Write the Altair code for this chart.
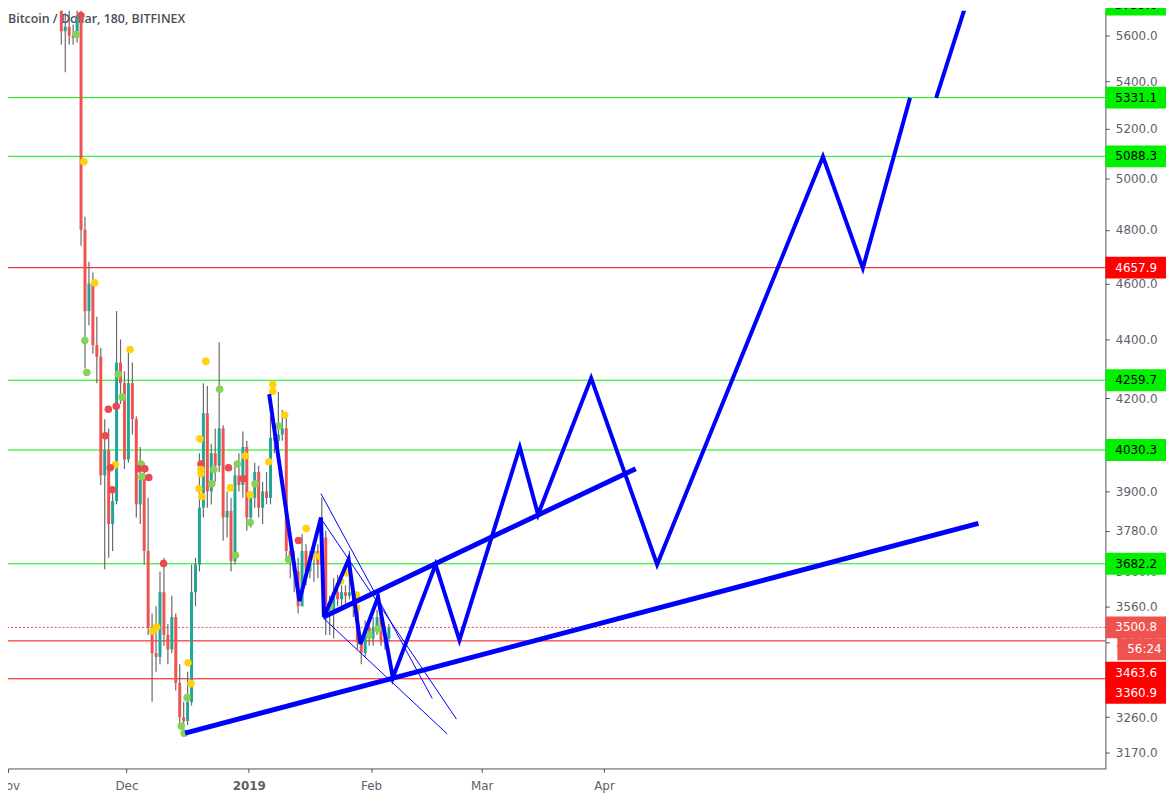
import altair as alt
import pandas as pd

W, H = 1105, 763

# ---------------- data ----------------
candle_first_day = "2018-11-14 12:00"
opens = [6300, 5620, 5640, 5600, 5590, 5690, 4800, 4500, 4600, 4380, 4340, 3950, 4030, 3800, 3870, 4320, 4250,
         4000, 4250, 4130, 3860, 3950, 3720, 3500, 3430, 3420, 3600, 3480, 3440, 3530, 3350, 3260, 3250, 3300,
         3600, 3680, 3850, 4150, 3900, 4020, 3980, 4100, 3820, 3840, 3690, 3950, 3920, 4040, 3820, 3880, 3960,
         3850, 3900, 3880, 4070, 4060, 4080, 4100, 3720, 3690, 3660, 3560, 3720, 3660, 3700, 3720, 3680, 3760,
         3560, 3550, 3600, 3580, 3600, 3590, 3600, 3560, 3460, 3430, 3500, 3470, 3500, 3530, 3460, 3470]
highs = [6380, 5700, 5720, 5650, 5740, 5720, 4850, 4680, 4640, 4480, 4370, 4130, 4100, 3900, 4500, 4400, 4290,
         4370, 4320, 4140, 4040, 3990, 3880, 3540, 3560, 3660, 3700, 3510, 3590, 3540, 3400, 3300, 3380, 3680,
         3700, 4020, 4250, 4240, 4050, 4100, 4390, 4110, 3900, 3880, 3980, 4020, 4090, 4060, 3900, 3990, 3980,
         3930, 3960, 4140, 4120, 4220, 4160, 4150, 3760, 3720, 3700, 3770, 3740, 3720, 3740, 3740, 3880, 3780,
         3590, 3640, 3650, 3620, 3620, 3720, 3610, 3565, 3470, 3520, 3510, 3530, 3550, 3540, 3490, 3510]
lows = [5560, 5440, 5560, 5560, 5570, 4740, 4300, 4450, 4350, 4250, 3920, 3666, 3700, 3720, 3860, 4180, 3970,
        3990, 4080, 3820, 3800, 3680, 3480, 3300, 3380, 3400, 3450, 3400, 3430, 3330, 3230, 3210, 3240, 3290,
        3560, 3660, 3820, 3850, 3860, 3930, 3960, 3750, 3760, 3660, 3680, 3900, 3880, 3780, 3790, 3850, 3820,
        3800, 3860, 3860, 4020, 4030, 4060, 3700, 3640, 3600, 3540, 3560, 3620, 3640, 3630, 3640, 3670, 3480,
        3480, 3470, 3560, 3550, 3560, 3580, 3530, 3440, 3400, 3420, 3450, 3450, 3480, 3450, 3440, 3460]
closes = [5620, 5640, 5600, 5590, 5690, 4800, 4500, 4600, 4380, 4340, 3950, 4030, 3800, 3870, 4320, 4250, 4000,
          4250, 4130, 3860, 3950, 3720, 3500, 3430, 3420, 3600, 3480, 3440, 3530, 3350, 3260, 3250, 3300, 3600,
          3680, 3850, 4150, 3900, 4020, 3980, 4100, 3820, 3840, 3690, 3950, 3920, 4040, 3820, 3880, 3960, 3850,
          3900, 3880, 4070, 4060, 4080, 4100, 3720, 3690, 3660, 3560, 3720, 3660, 3700, 3720, 3680, 3760, 3560,
          3550, 3600, 3580, 3600, 3590, 3600, 3560, 3460, 3430, 3500, 3470, 3500, 3530, 3460, 3470, 3500.8]

dot_dates = ["2018-11-19 11:00", "2018-11-18 05:00", "2018-11-20 05:00", "2018-11-22 23:00", "2018-11-20 11:00",
             "2018-11-20 23:00", "2018-11-26 10:00", "2018-11-28 10:00", "2018-11-28 22:00", "2018-12-01 22:00",
             "2018-11-29 22:00", "2018-11-25 16:00", "2018-11-28 04:00", "2018-11-26 22:00", "2018-11-27 10:00",
             "2018-12-04 16:00", "2018-12-04 04:00", "2018-12-05 16:00", "2018-12-04 22:00", "2018-12-06 16:00",
             "2018-12-10 10:00", "2018-12-07 16:00", "2018-12-08 16:00", "2018-12-16 15:00", "2018-12-17 09:00",
             "2018-12-16 09:00", "2018-12-14 21:00", "2018-12-15 15:00", "2018-12-21 03:00", "2018-12-24 15:00",
             "2018-12-19 15:00", "2018-12-19 21:00", "2018-12-19 21:00", "2018-12-19 21:00", "2018-12-23 03:00",
             "2018-12-22 15:00", "2018-12-19 09:00", "2018-12-20 03:00", "2018-12-26 21:00", "2018-12-27 09:00",
             "2018-12-29 02:00", "2018-12-31 02:00", "2018-12-30 14:00", "2019-01-02 14:00", "2019-01-01 08:00",
             "2019-01-01 08:00", "2018-12-28 15:00", "2019-01-06 02:00", "2019-01-07 02:00", "2019-01-07 02:00",
             "2019-01-10 02:00", "2019-01-08 14:00", "2019-01-13 14:00", "2019-01-11 02:00", "2019-01-15 13:00",
             "2019-01-17 01:00", "2019-01-19 01:00", "2019-01-21 13:00", "2019-01-24 07:00", "2019-01-26 01:00",
             "2019-01-28 07:00", "2019-01-28 07:00", "2019-01-31 12:00", "2019-02-02 18:00"]
dot_prices = [5690, 5605, 5067, 4602, 4396, 4286, 4163, 4173, 4280, 4365, 4203, 4076, 3983, 3974, 3905, 3986,
              3971, 3971, 3946, 3943, 3683, 3491, 3502, 3404, 3348, 3311, 3237, 3219, 4324, 4229, 4066, 3986,
              3968, 3955, 3968, 3924, 3908, 3884, 3974, 3911, 3986, 4011, 3939, 3924, 3890, 3805, 3707, 3993,
              4246, 4223, 4144, 4108, 3751, 3695, 3787, 3704, 3704, 3561, 3632, 3655, 3592, 3556, 3480, 3497]
dot_kinds = ["red", "green", "yellow", "yellow", "green", "green", "red", "red", "green", "yellow",
             "green", "red", "yellow", "red", "red", "green", "red", "red", "green", "red",
             "red", "yellow", "yellow", "yellow", "yellow", "green", "green", "green", "yellow", "green",
             "yellow", "red", "yellow", "yellow", "green", "green", "yellow", "yellow", "red", "yellow",
             "green", "yellow", "red", "green", "yellow", "green", "green", "yellow", "yellow", "yellow",
             "yellow", "green", "red", "green", "yellow", "yellow", "yellow", "green", "yellow", "yellow",
             "yellow", "yellow", "green", "green"]

zig_dates = ["2019-01-06 04:00", "2019-01-13 19:40", "2019-01-19 07:00", "2019-01-20 01:00", "2019-01-26 07:00",
             "2019-01-29 07:00", "2019-02-02 18:00", "2019-02-06 12:00", "2019-02-17 08:00", "2019-02-23 09:00",
             "2019-03-10 16:00", "2019-03-15 07:00", "2019-03-28 18:00", "2019-04-14 11:00", "2019-05-26 11:30",
             "2019-06-05 14:00", "2019-06-17 13:00", "2019-06-24 04:00", "2019-07-01 21:00"]
zig_prices = [4213, 3575, 3820, 3530, 3695, 3455, 3586, 3364, 3680, 3466, 4039, 3829, 4267, 3680, 5087,
              4656, 5330, 5330, 5749]
zig_leg = [0] * 17 + [1, 1]

trend_start_dates = ["2018-12-15 21:00", "2019-01-19 22:00"]
trend_start_prices = [3219, 3530]
trend_end_dates = ["2019-07-04 21:00", "2019-04-09 01:00"]
trend_end_prices = [3802, 3971]

thin_start_dates = ["2019-01-19 07:00", "2019-01-19 07:00", "2019-01-19 19:00"]
thin_start_prices = [3893, 3817, 3528]
thin_end_dates = ["2019-02-16 11:30", "2019-02-22 15:00", "2019-02-20 07:00"]
thin_end_prices = [3309, 3255, 3217]

green_levels = [5739.6, 5331.1, 5088.3, 4259.7, 4030.3, 3682.2]
red_levels = [4657.9, 3463.6, 3360.9]
last_price = [3500.8]
countdown = ["56:24"]
y_ticks = [3170, 3260, 3460, 3560, 3660, 3780, 3900, 4200, 4400, 4600, 4800, 5000, 5200, 5400, 5600]
header = ["Bitcoin / Dollar, 180, BITFINEX"]

# ---------------- frames ----------------
candles = pd.DataFrame({
    "date": pd.date_range(candle_first_day, periods=len(closes), freq="D"),
    "open": opens, "high": highs, "low": lows, "close": closes,
})
candles["dir"] = ["up" if c >= o else "down" for o, c in zip(opens, closes)]
dots = pd.DataFrame({"date": pd.to_datetime(dot_dates), "price": dot_prices, "kind": dot_kinds})
zig = pd.DataFrame({"date": pd.to_datetime(zig_dates), "price": zig_prices, "leg": zig_leg})
trend = pd.DataFrame({"d1": pd.to_datetime(trend_start_dates), "p1": trend_start_prices,
                      "d2": pd.to_datetime(trend_end_dates), "p2": trend_end_prices})
thin = pd.DataFrame({"d1": pd.to_datetime(thin_start_dates), "p1": thin_start_prices,
                     "d2": pd.to_datetime(thin_end_dates), "p2": thin_end_prices})

# ---------------- scales / axes ----------------
AX = "#50535e"
LBL = "#5d606b"
FONT = "DejaVu Sans"
xscale = alt.Scale(domain=[alt.DateTime(year=2018, month=11, date=2, hours=6),
                           alt.DateTime(year=2019, month=8, date=4, hours=19)])
yscale = alt.Scale(type="log", domain=[3130, 5712], nice=False)
xaxis = alt.Axis(
    values=[alt.DateTime(year=2018, month=11, date=1), alt.DateTime(year=2018, month=12, date=1),
            alt.DateTime(year=2019, month=1, date=1), alt.DateTime(year=2019, month=2, date=1),
            alt.DateTime(year=2019, month=3, date=1), alt.DateTime(year=2019, month=4, date=1)],
    labelExpr="month(datum.value) == 0 ? timeFormat(datum.value, '%Y') : timeFormat(datum.value, '%b')",
    labelFontWeight={"condition": {"test": "month(datum.value) == 0", "value": "bold"}, "value": "normal"},
    title=None, grid=False, domainColor=AX, tickColor=AX, tickSize=4, labelColor=LBL,
    labelFont=FONT, labelFontSize=12, labelPadding=8, labelOverlap=False, labelFlush=False,
)
yaxis = alt.Axis(
    orient="right", values=y_ticks, format=".1f", title=None, grid=False, domainColor=AX, tickColor=AX,
    tickSize=4, labelColor=LBL, labelFont=FONT, labelFontSize=12, labelPadding=6,
    labelOverlap=False,
)


def X(f):
    return alt.X(f"{f}:T", scale=xscale, axis=xaxis)


def Y(f):
    return alt.Y(f"{f}:Q", scale=yscale, axis=yaxis)


GREEN = "#00f000"
RED = "#ff0000"
SOFT_RED = "#ef5350"
BLUE = "#0000ff"

green_df = pd.DataFrame({"price": green_levels})
red_df = pd.DataFrame({"price": red_levels})
last_df = pd.DataFrame({"price": last_price})

hl_green = alt.Chart(green_df).mark_rule(color=GREEN, strokeWidth=1, clip=True).encode(y=Y("price"))
hl_red = alt.Chart(red_df).mark_rule(color=RED, strokeWidth=1, clip=True).encode(y=Y("price"))
hl_last = alt.Chart(last_df).mark_rule(color=SOFT_RED, strokeWidth=1, strokeDash=[2, 2], clip=True).encode(
    y=Y("price"))

head = alt.Chart(pd.DataFrame({"t": header})).mark_text(
    align="left", baseline="middle", font="Open Sans", fontSize=12.5, fontWeight=600, color="#4a4e59"
).encode(x=alt.value(0), y=alt.value(8), text="t:N")

wicks = alt.Chart(candles).mark_rule(color="#6a6a6a", strokeWidth=1.2, clip=True).encode(
    x=X("date"), y=Y("low"), y2=alt.Y2("high:Q"))
bodies = alt.Chart(candles).mark_bar(size=3, clip=True).encode(
    x=X("date"), y=Y("open"), y2=alt.Y2("close:Q"),
    color=alt.Color("dir:N", scale=alt.Scale(domain=["up", "down"], range=["#22a596", "#ef5350"]), legend=None))

dot_layer = alt.Chart(dots).mark_circle(size=58, opacity=1, clip=True).encode(
    x=X("date"), y=Y("price"),
    color=alt.Color("kind:N", scale=alt.Scale(domain=["yellow", "green", "red"],
                                              range=["#ffd10f", "#86d15a", "#e84a4d"]), legend=None))

thin_layer = alt.Chart(thin).mark_rule(color=BLUE, strokeWidth=1, clip=True).encode(
    x=X("d1"), x2=alt.X2("d2:T"), y=Y("p1"), y2=alt.Y2("p2:Q"))
trend_layer = alt.Chart(trend).mark_rule(color=BLUE, strokeWidth=5, clip=True).encode(
    x=X("d1"), x2=alt.X2("d2:T"), y=Y("p1"), y2=alt.Y2("p2:Q"))
zig_layer = alt.Chart(zig).mark_line(color=BLUE, strokeWidth=4, strokeJoin="miter", clip=True).encode(
    x=X("date"), y=Y("price"), detail="leg:N")


def box_path(w, h):
    r = h / w
    return f"M-1,-{r:.4f}L1,-{r:.4f}L1,{r:.4f}L-1,{r:.4f}Z"


def label(df, bg, fg, yoff=0, box_w=61, x_left=0, text_field="price", fmt=".1f"):
    cx = W + x_left + box_w / 2
    box = alt.Chart(df).mark_point(shape=box_path(box_w, 22), size=box_w ** 2, filled=True, opacity=1,
                                   strokeWidth=0, color=bg, yOffset=yoff, clip=False).encode(
        x=alt.value(cx), y=Y("price"))
    if fmt:
        txt_enc = alt.Text(f"{text_field}:Q", format=fmt)
    else:
        txt_enc = alt.Text(f"{text_field}:N")
    txt = alt.Chart(df).mark_text(align="left", baseline="middle", font=FONT, fontSize=12,
                                  color=fg, yOffset=yoff, clip=False).encode(
        x=alt.value(W + x_left + 10), y=Y("price"), text=txt_enc)
    return box + txt


lab_green = label(green_df, GREEN, "#000000")
lab_red_a = label(pd.DataFrame({"price": [red_levels[0]]}), RED, "#ffffff")
lab_red_b = label(pd.DataFrame({"price": [red_levels[1]]}), RED, "#ffffff", yoff=32)
lab_red_c = label(pd.DataFrame({"price": [red_levels[2]]}), RED, "#ffffff", yoff=14)
lab_last = label(last_df, SOFT_RED, "#ffffff")
lab_cd = label(pd.DataFrame({"price": last_price, "cd": countdown}), SOFT_RED, "#ffffff", yoff=22,
               box_w=49, x_left=12, text_field="cd", fmt=None)

chart = alt.layer(
    hl_green, hl_red, hl_last, head, wicks, bodies, dot_layer, thin_layer, trend_layer, zig_layer,
    lab_green, lab_red_a, lab_red_c, lab_red_b, lab_last, lab_cd,
).resolve_scale(
    color="independent"
).properties(
    width=W, height=H,
    autosize=alt.AutoSizeParams(type="none"),
    padding={"left": 0, "top": 0, "right": 61, "bottom": 22},
    background="white",
).configure_view(stroke=None)

chart.save("out.html", embed_options={"renderer": "svg", "actions": False})
